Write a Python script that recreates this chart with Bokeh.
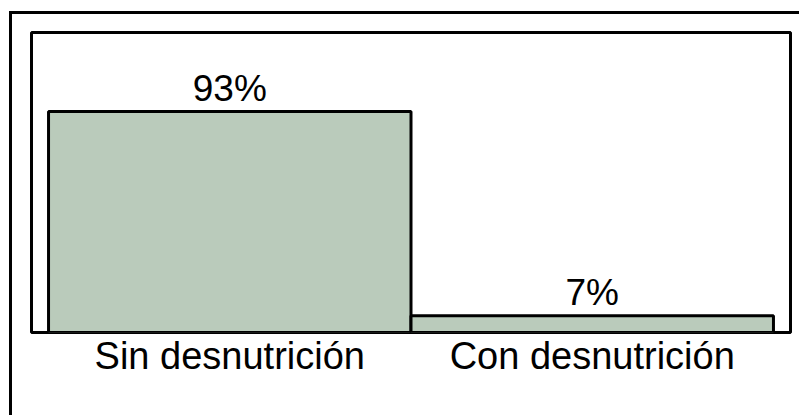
from bokeh.plotting import figure
from bokeh.models import ColumnDataSource, LabelSet, FactorRange, Range1d, InlineStyleSheet
from bokeh.core.properties import value
from bokeh.embed import file_html
from bokeh.resources import INLINE

categories = ["Sin desnutrición", "Con desnutrición"]
values = [93, 7]
labels = ["93%", "7%"]

src = ColumnDataSource(dict(cat=categories, val=values, lab=labels))

p = figure(width=799, height=415, output_backend="svg", toolbar_location=None,
           x_range=FactorRange(*categories, range_padding=0.047),
           y_range=Range1d(0, 126.3),
           min_border_left=31, min_border_right=9, min_border_top=32, min_border_bottom=83)

p.vbar(x="cat", top="val", width=1.0, source=src, fill_color="#bacbbb",
       line_color="black", line_width=3)

p.add_layout(LabelSet(x="cat", y="val", text="lab", source=src, y_offset=11,
                      text_align="center", text_baseline="alphabetic",
                      text_font=value("Liberation Sans"), text_font_size="37px",
                      text_color="black"))

# outer border: only top and left edges are inside the page
p.stylesheets = [InlineStyleSheet(css="""
:host { position: relative; overflow: hidden; }
:host::after { content: ""; position: absolute; left: 9px; top: 11px;
  width: 790px; height: 404px; box-sizing: border-box;
  border-left: 3px solid black; border-top: 3px solid black;
  pointer-events: none; }
""")]

p.outline_line_color = "black"
p.outline_line_width = 3
p.outline_line_alpha = 1
p.grid.visible = False
p.yaxis.visible = False
p.xaxis.axis_line_color = None
p.xaxis.major_tick_line_color = None
p.xaxis.minor_tick_line_color = None
p.xaxis.major_tick_out = 0
p.xaxis.major_tick_in = 0
p.xaxis.major_label_text_font = "Liberation Sans"
p.xaxis.major_label_text_font_size = "38px"
p.xaxis.major_label_text_color = "black"
p.xaxis.major_label_standoff = 2
p.background_fill_color = "white"
p.border_fill_color = "white"

open("out.html", "w").write(file_html(p, INLINE))
